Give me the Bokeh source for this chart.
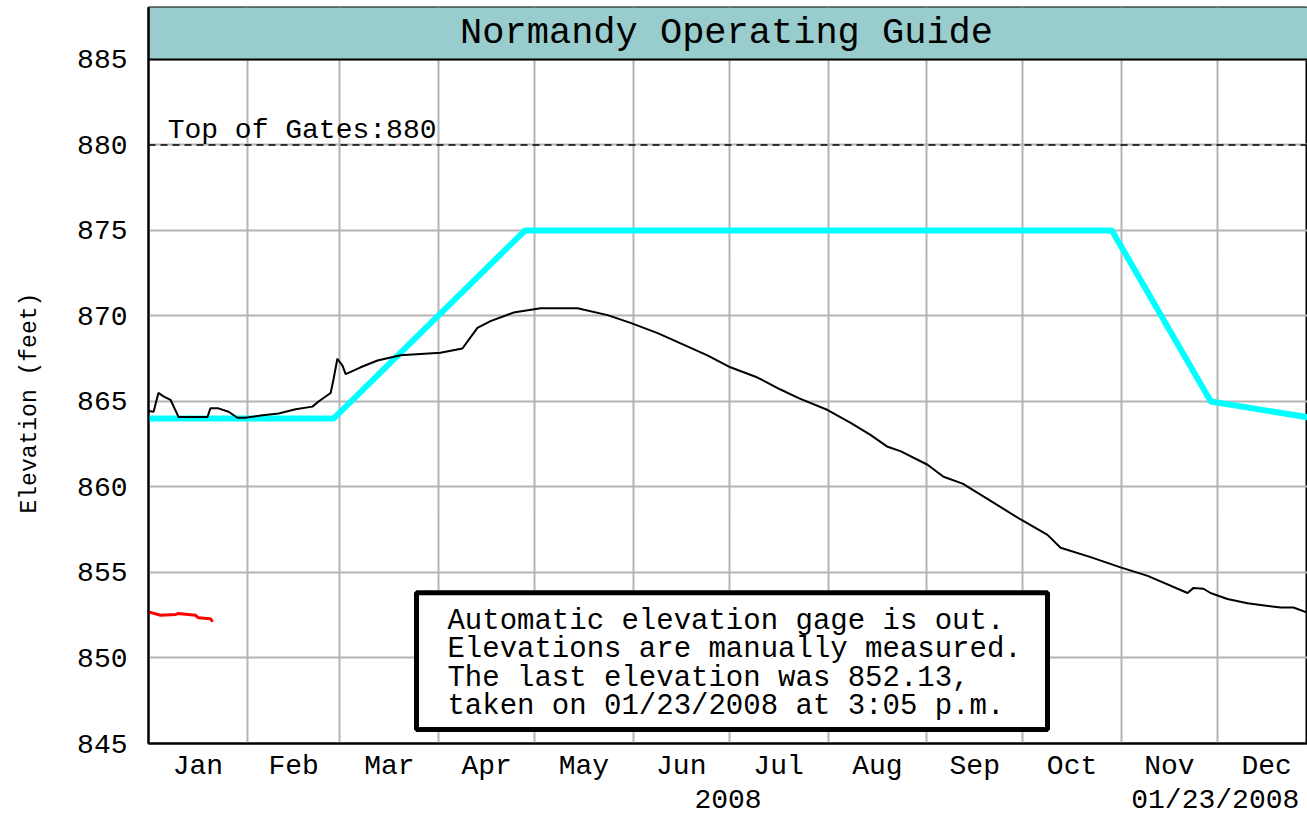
from bokeh.plotting import figure
from bokeh.models import (Range1d, FixedTicker, Span, CustomJSTickFormatter)
from bokeh.core.properties import value
from bokeh.embed import file_html
from bokeh.resources import INLINE

# ---------------- data ----------------
title_text = "Normandy Operating Guide"
month_starts = [0, 31, 60, 91, 121, 152, 182, 213, 244, 274, 305, 335, 366]
month_names = ["Jan", "Feb", "Mar", "Apr", "May", "Jun",
               "Jul", "Aug", "Sep", "Oct", "Nov", "Dec"]
y_ticks = [845, 850, 855, 860, 865, 870, 875, 880, 885]

# operating guide curve (day of year, elevation ft)
guide_days = [0, 58, 118, 302, 333, 366]
guide_elev = [864, 864, 875, 875, 865, 864]

# previous-year elevation trace (black)
hist_days = [0, 1.6, 3.1, 4.7, 6.9, 9.4, 18.5, 19.4, 21.9, 25.1, 27.9, 30.4,
             35.7, 40.8, 46.1, 51.4, 53.3, 57.1, 58.0, 59.2, 60.8, 61.8, 66.5,
             71.8, 79.0, 91.5, 98.4, 103.1, 107.2, 114.4, 122.9, 134.5, 143.9,
             151.1, 159.6, 166.8, 175.2, 182.4, 190.9, 198.1, 203.8, 212.9,
             220.1, 226.3, 231.7, 235.7, 244.2, 249.2, 255.2, 260.8, 273.4,
             281.8, 285.9, 295.3, 304.7, 313.2, 325.7, 327.6, 330.7, 332.9,
             338.2, 344.5, 354.9, 358.9, 363.3]
hist_elev = [864.45, 864.4, 865.5, 865.3, 865.1, 864.1, 864.1, 864.6, 864.6,
             864.4, 864.05, 864.05, 864.2, 864.3, 864.55, 864.7, 865.0, 865.5,
             866.3, 867.5, 867.1, 866.6, 867.0, 867.4, 867.7, 867.85, 868.1,
             869.3, 869.7, 870.2, 870.45, 870.45, 870.05, 869.6, 869.0, 868.4,
             867.7, 867.0, 866.4, 865.7, 865.2, 864.5, 863.75, 863.05, 862.35,
             862.1, 861.3, 860.6, 860.2, 859.55, 858.1, 857.2, 856.45, 855.9,
             855.3, 854.8, 853.8, 854.1, 854.05, 853.8, 853.45, 853.2, 852.95,
             852.95, 852.65]

# current-year measured elevations (red)
cur_days = [0, 3.8, 8.5, 9.4, 14.7, 15.7, 19.4, 20.1]
cur_elev = [852.7, 852.5, 852.55, 852.6, 852.5, 852.35, 852.3, 852.13]

top_of_gates = 880
top_label = "Top of Gates:880"
note_lines = ["Automatic elevation gage is out.",
              "Elevations are manually measured.",
              "The last elevation was 852.13,",
              "taken on 01/23/2008 at 3:05 p.m."]
y_axis_title = "Elevation (feet)"
x_axis_title = "2008"
stamp_text = "01/23/2008"

# ---------------- figure ----------------
FONT = "Liberation Mono"
NB = "\u00a0"
X_MAX = 363.3
Y_MIN, Y_MAX = 845, 888.04

p = figure(width=1307, height=818, output_backend="svg", toolbar_location=None,
           x_range=Range1d(0, X_MAX), y_range=Range1d(Y_MIN, Y_MAX),
           min_border_left=148, min_border_right=0, min_border_top=7,
           min_border_bottom=74)
p.background_fill_color = "white"
p.border_fill_color = "white"
p.outline_line_color = "black"
p.outline_line_width = 2

mids = [(month_starts[i] + month_starts[i + 1]) / 2 for i in range(12)]
p.xaxis.ticker = FixedTicker(ticks=mids)
p.xaxis.formatter = CustomJSTickFormatter(
    args=dict(mids=mids, names=month_names),
    code="""
let best = 0, bd = 1e9;
for (let i = 0; i < mids.length; i++) {
  const d = Math.abs(mids[i] - tick);
  if (d < bd) { bd = d; best = i; }
}
return names[best];
""")
p.yaxis.ticker = FixedTicker(ticks=y_ticks)
p.xgrid.ticker = FixedTicker(ticks=month_starts[1:-1])
p.ygrid.ticker = FixedTicker(ticks=y_ticks)
for g in (p.xgrid, p.ygrid):
    g.grid_line_color = "#b4b4b4"
    g.grid_line_width = 2

for ax in (p.xaxis, p.yaxis):
    ax.axis_line_color = "black"
    ax.axis_line_width = 2
    ax.major_tick_line_color = None
    ax.minor_tick_line_color = None
    ax.major_tick_out = 0
    ax.major_tick_in = 0
    ax.major_label_text_font = FONT
    ax.major_label_text_font_size = "28px"
    ax.major_label_text_color = "black"
    ax.axis_label_text_font = FONT
    ax.axis_label_text_font_style = "normal"
    ax.axis_label_text_color = "black"
p.xaxis.major_label_standoff = 7
p.yaxis.major_label_standoff = 21

# x-axis title "2008" centred, with the date stamp at the right on the same row
p.xaxis.axis_label = NB * 32 + x_axis_title + NB * 22 + stamp_text
p.xaxis.axis_label_text_font_size = "28px"
p.xaxis.axis_label_standoff = 0
# y-axis title, nudged down to centre on the 845-885 span
p.yaxis.axis_label = y_axis_title + NB * 4
p.yaxis.axis_label_text_font_size = "23px"
p.yaxis.axis_label_standoff = 31

# title bar inside the frame
p.quad(left=[0], right=[400], bottom=[885], top=[Y_MAX + 1],
       fill_color="#99cccc", line_color="black", line_width=2)
p.text(x=[181.2], y=[886.52], text=[title_text],
       text_font=value(FONT), text_font_size="37px", text_align="center",
       text_baseline="middle", text_color="black")

# top of gates
p.add_layout(Span(location=top_of_gates, dimension="width", line_color="black",
                  line_width=1.5, line_dash="7 5"))
p.text(x=[6], y=[top_of_gates + 0.85], text=[top_label], text_font=value(FONT),
       text_font_size="28px", text_baseline="middle", text_color="black")

# lines
p.line(guide_days, guide_elev, line_color="#00ffff", line_width=6)
p.line(hist_days, hist_elev, line_color="black", line_width=2)
p.line(cur_days, cur_elev, line_color="red", line_width=3)

# note box
p.quad(left=[84.0], right=[281.8], bottom=[845.82], top=[853.82],
       fill_color="white", line_color="black", line_width=5)
p.text(x=[93.7] * 4, y=[852.15, 850.48, 848.8, 847.15], text=note_lines,
       text_font=value(FONT), text_font_size="29px", text_baseline="middle",
       text_color="black")

open("out.html", "w").write(file_html(p, INLINE))
